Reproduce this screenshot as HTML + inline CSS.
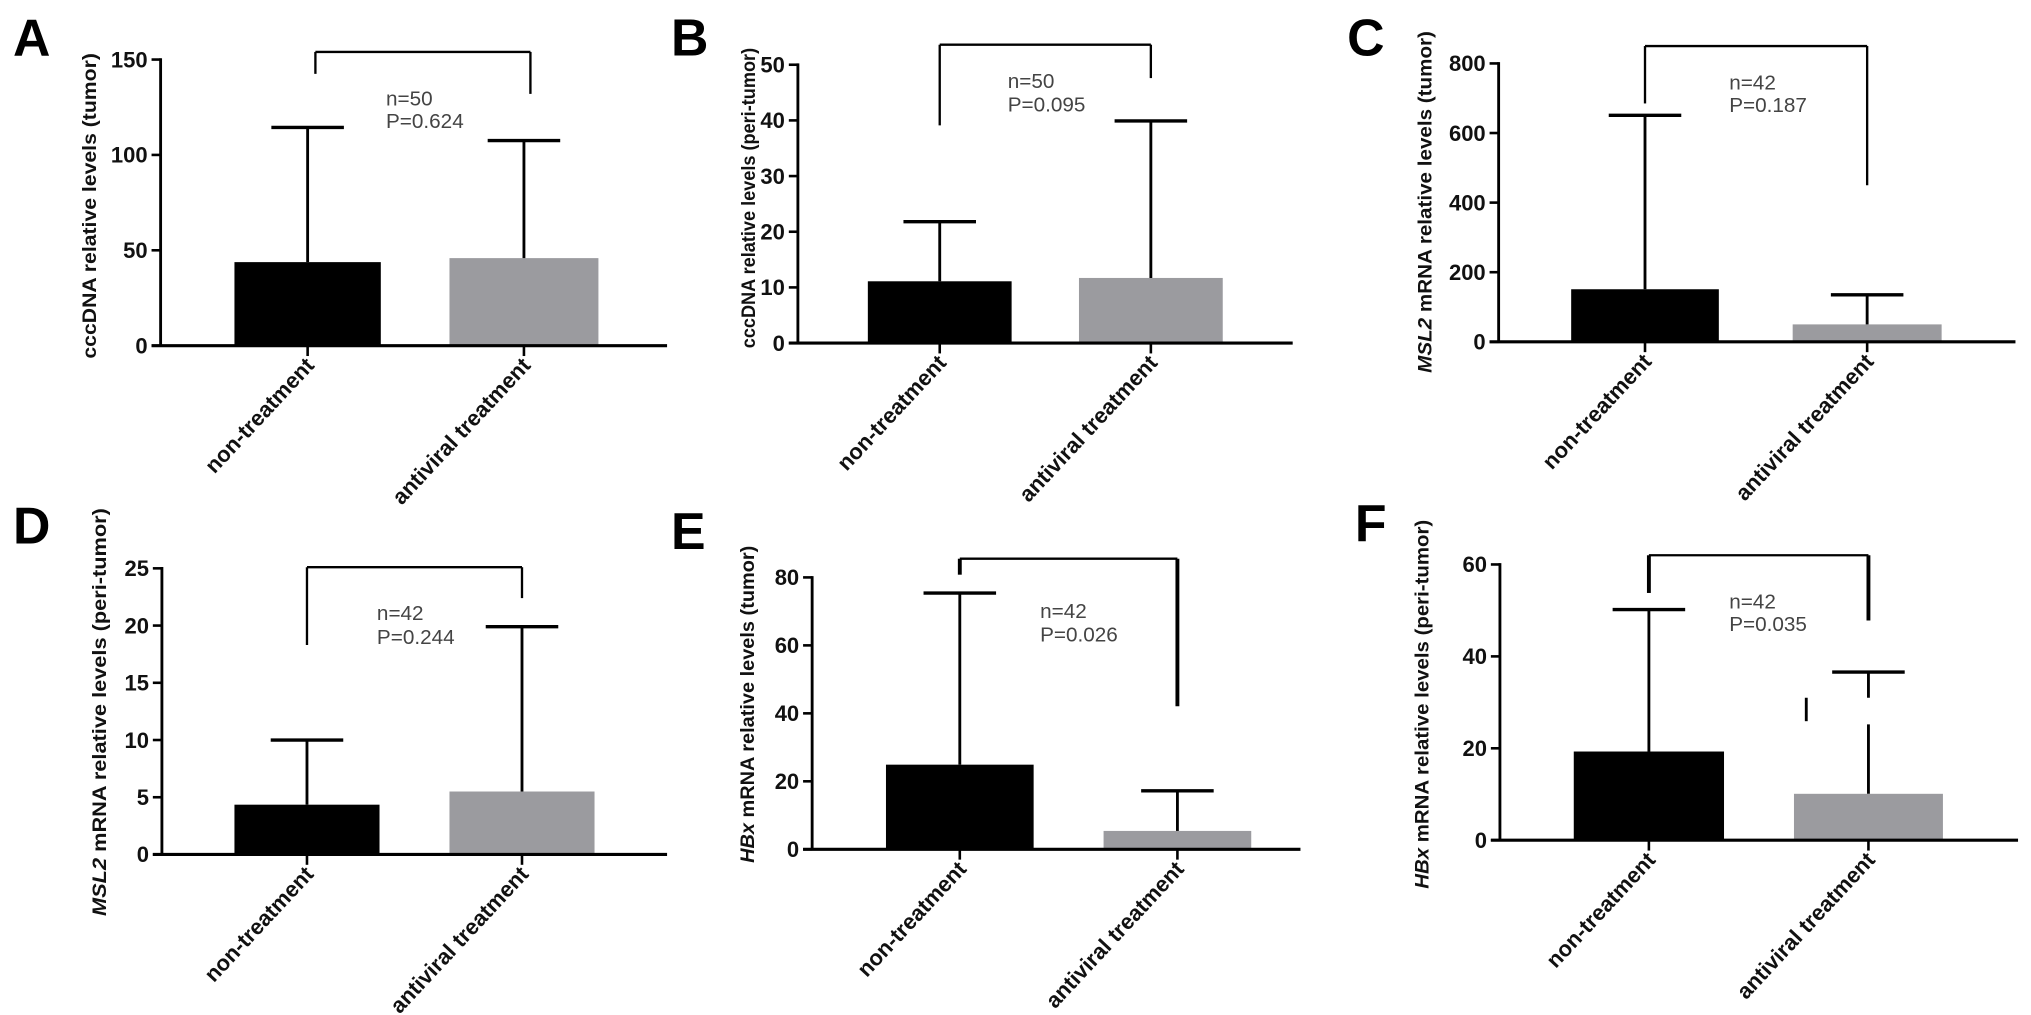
<!DOCTYPE html>
<html><head><meta charset="utf-8"><title>Bar charts A–F</title>
<style>
html,body{margin:0;padding:0;background:#fff;}
svg{display:block;font-family:"Liberation Sans",Arial,sans-serif;}
</style></head>
<body>
<svg id="fig" width="2031" height="1015" viewBox="0 0 1568 784" preserveAspectRatio="none" xmlns="http://www.w3.org/2000/svg"></svg>
<script>
// ---- data ----
const categories = ["non-treatment", "antiviral treatment"];
const panelIds = ["A", "B", "C", "D", "E", "F"];
const meanValues = [[43.8, 45.9], [11.1, 11.7], [151, 50], [4.35, 5.5], [24.9, 5.4], [19.3, 10.1]];
const sdValues = [[114.4, 107.5], [21.8, 39.9], [651, 135], [10.0, 19.9], [75.4, 17.2], [50.2, 36.6]];
const yTicks = [[0, 50, 100, 150], [0, 10, 20, 30, 40, 50], [0, 200, 400, 600, 800], [0, 5, 10, 15, 20, 25], [0, 20, 40, 60, 80], [0, 20, 40, 60]];
const nLabels = ["n=50", "n=50", "n=42", "n=42", "n=42", "n=42"];
const pLabels = ["P=0.624", "P=0.095", "P=0.187", "P=0.244", "P=0.026", "P=0.035"];
const bracketTop = [154, 53.6, 850, 25.1, 85.5, 62];
const bracketLeftEnd = [142.5, 39.1, 685, 18.3, 80.8, 53.8];
const bracketRightEnd = [132, 47.6, 450, 22.4, 42.1, 47.8];
const nLabelValue = [126, 45.8, 725, 20.5, 68, 50.4];
const pLabelValue = [114, 41.6, 661, 18.4, 61.2, 45.5];
const fGapLow = 25.2, fGapHigh = 31.0, fStubLow = 25.9;

// ---- layout (pixel geometry, not data) ----
const layout = [
  {ax:124, y0:267, yt:46, xe:515, b1:[181,294], b2:[347,462], tx:69,  tc:159, tl:236, lx:10,  ly:43,  sx:298},
  {ax:616, y0:265, yt:50, xe:998, b1:[670,781], b2:[833,944], tx:578, tc:153, tl:232, lx:518, ly:43,  sx:778},
  {ax:1157,y0:264, yt:49, xe:1556,b1:[1213,1327],b2:[1384,1499],tx:1100,tc:156,tl:264,lx:1040,ly:43, sx:1335},
  {ax:125, y0:660, yt:439,xe:515, b1:[181,293], b2:[347,459], tx:77,  tc:550, tl:315, lx:10,  ly:420, sx:291},
  {ax:627, y0:656, yt:446,xe:1004,b1:[684,798], b2:[852,966], tx:577, tc:544, tl:245, lx:518, ly:424, sx:803},
  {ax:1158,y0:649, yt:436,xe:1558,b1:[1215,1331],b2:[1385,1500],tx:1098,tc:544,tl:285,lx:1046,ly:418, sx:1335}
];
const yTitleParts = [
  [["cccDNA relative levels (tumor)", false]],
  [["cccDNA relative levels (peri-tumor)", false]],
  [["MSL2", true], [" mRNA relative levels (tumor)", false]],
  [["MSL2", true], [" mRNA relative levels (peri-tumor)", false]],
  [["HBx", true], [" mRNA relative levels (tumor)", false]],
  [["HBx", true], [" mRNA relative levels (peri-tumor)", false]]
];
const barColors = ["#000000", "#9b9b9f"];

const NS = "http://www.w3.org/2000/svg";
const svg = document.getElementById("fig");
function mk(tag, attrs, parent) {
  const e = document.createElementNS(NS, tag);
  for (const k in attrs) e.setAttribute(k, attrs[k]);
  (parent || svg).appendChild(e);
  return e;
}

panelIds.forEach((pid, i) => {
  const L = layout[i];
  const ticks = yTicks[i];
  const yMax = ticks[ticks.length - 1];
  const yScale = v => L.y0 - (v / yMax) * (L.y0 - L.yt);
  const centers = [(L.b1[0] + L.b1[1]) / 2, (L.b2[0] + L.b2[1]) / 2];
  const bars = [L.b1, L.b2];

  const g = mk("g", {});
  
  

  const letter = mk("text", {x: L.lx, y: L.ly, "font-size": 40, "font-weight": "bold", fill: "#000"}, g);
  letter.textContent = pid;
  
  

  const tt = mk("text", {transform: "translate(" + L.tx + "," + L.tc + ") rotate(-90)", "text-anchor": "middle",
    "font-size": 15, "font-weight": "bold", fill: "#111", textLength: L.tl, lengthAdjust: "spacingAndGlyphs", dy: 5}, g);
  yTitleParts[i].forEach(p => {
    const ts = mk("tspan", {}, tt);
    if (p[1]) ts.setAttribute("font-style", "italic");
    ts.textContent = p[0];
  });
  
  

  meanValues[i].forEach((v, j) => {
    const r = mk("rect", {x: bars[j][0], y: yScale(v), width: bars[j][1] - bars[j][0], height: L.y0 - yScale(v), fill: barColors[j]}, g);
    
    
  });

  sdValues[i].forEach((v, j) => {
    const cx = centers[j];
    const eg = mk("g", {stroke: "#000", "stroke-width": 2.2, fill: "none"}, g);
    
    
    if (pid === "F" && j === 1) {
      mk("line", {x1: cx, y1: yScale(meanValues[i][j]), x2: cx, y2: yScale(fGapLow)}, eg);
      mk("line", {x1: cx, y1: yScale(fGapHigh), x2: cx, y2: yScale(v)}, eg);
      mk("line", {x1: cx - 48, y1: yScale(fStubLow), x2: cx - 48, y2: yScale(fGapHigh)}, eg);
    } else {
      mk("line", {x1: cx, y1: yScale(meanValues[i][j]), x2: cx, y2: yScale(v)}, eg);
    }
    mk("line", {x1: cx - 28, y1: yScale(v), x2: cx + 28, y2: yScale(v), "stroke-width": 2.6}, eg);
  });

  const ya = mk("line", {x1: L.ax, y1: L.yt - 1, x2: L.ax, y2: L.y0, stroke: "#000", "stroke-width": 2.2}, g);
  
  
  const xa = mk("line", {x1: L.ax - 7, y1: L.y0, x2: L.xe, y2: L.y0, stroke: "#000", "stroke-width": 2.4}, g);
  
  

  ticks.forEach(t => {
    const y = yScale(t);
    mk("line", {x1: L.ax - 7, y1: y, x2: L.ax, y2: y, stroke: "#000", "stroke-width": 2}, g);
    const lb = mk("text", {x: L.ax - 10, y: y + 6, "text-anchor": "end", "font-size": 17, "font-weight": "bold", fill: "#111"}, g);
    lb.textContent = t;
    
    
  });

  categories.forEach((c, j) => {
    const cx = centers[j];
    mk("line", {x1: cx, y1: L.y0, x2: cx, y2: L.y0 + 8, stroke: "#000", "stroke-width": 2}, g);
    const cl = mk("text", {transform: "translate(" + (cx + 6) + "," + (L.y0 + 16) + ") rotate(-47)", "text-anchor": "end",
      "font-size": 17, "font-weight": "bold", fill: "#111"}, g);
    cl.textContent = c;
    
    
  });

  const bx1 = centers[0] + (pid === "A" ? 6 : 0), bx2 = centers[1] + (pid === "A" ? 5 : 0);
  const thick = (pid === "E" || pid === "F") ? 3 : 1.8;
  const br = mk("g", {stroke: "#000", fill: "none", "stroke-width": 1.8}, g);
  
  
  mk("line", {x1: bx1, y1: yScale(bracketTop[i]), x2: bx2, y2: yScale(bracketTop[i])}, br);
  mk("line", {x1: bx1, y1: yScale(bracketTop[i]), x2: bx1, y2: yScale(bracketLeftEnd[i]), "stroke-width": thick}, br);
  mk("line", {x1: bx2, y1: yScale(bracketTop[i]), x2: bx2, y2: yScale(bracketRightEnd[i]), "stroke-width": thick}, br);

  const nt = mk("text", {x: L.sx, y: yScale(nLabelValue[i]), "font-size": 16, fill: "#444"}, g);
  nt.textContent = nLabels[i];
  
  
  const pt = mk("text", {x: L.sx, y: yScale(pLabelValue[i]), "font-size": 16, fill: "#444"}, g);
  pt.textContent = pLabels[i];
  
  
});
</script>
</body></html>
